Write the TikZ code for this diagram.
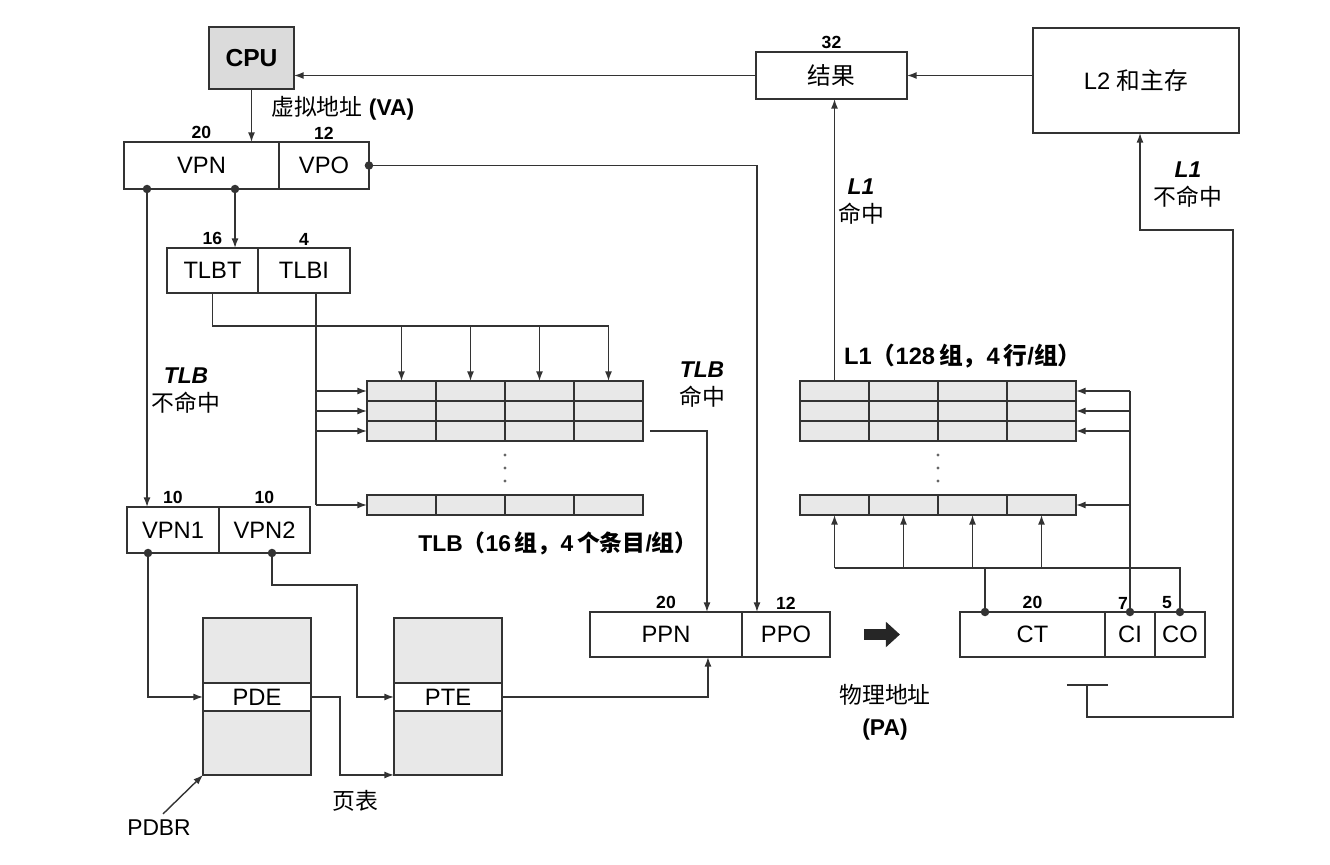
\documentclass[tikz,border=0pt]{standalone}
\usepackage{fontspec}
\setmainfont{Liberation Sans}
\newfontfamily\cjk{Noto Sans CJK SC}
\usetikzlibrary{arrows.meta,calc,positioning}

\begin{document}
\begin{tikzpicture}[x=0.02cm, y=-0.02cm,
    wire/.style={black!80, line width=0.8pt},
    conn/.style={wire, -{Latex[length=5.5pt,width=4pt]}},
    field/.style={draw=black!80, line width=1.3pt, inner sep=0pt, outer sep=0pt, font=\fontsize{13.5}{15}\selectfont},
    cell/.style={draw=black!80, line width=1.6pt, fill=gray!18, minimum width=1.38cm, minimum height=0.4cm, inner sep=0pt, outer sep=0pt},
    bits/.style={anchor=south, inner sep=1.5pt, font=\fontsize{10}{11}\selectfont\bfseries},
    dot/.style={circle, fill=black!80, inner sep=0pt, minimum size=0.17cm},
    txt/.style={font=\fontsize{13}{16}\selectfont, align=center}]
  \useasboundingbox (0,0) rectangle (1330,865);

  % CPU, result and L2
  \node[field, fill=gray!28, minimum width=1.7cm, minimum height=1.24cm, font=\fontsize{14}{15}\selectfont\bfseries] (cpu) at (251.5,58) {CPU};
  \node[field, minimum width=3.02cm, minimum height=0.94cm] (result) at (831.5,75.5) {{\cjk 结果}};
  \node[bits] at (result.north) {32};
  \node[field, minimum width=4.12cm, minimum height=2.1cm] (l2) at (1136,80.5) {L2 {\cjk 和主存}};
  \draw[conn] (result.west) -- (result.west -| cpu.east);
  \draw[conn] (l2.west |- result.east) -- (result.east);

  % Virtual address
  \node[field, minimum width=3.1cm, minimum height=0.94cm] (vpn) at (201.5,165.5) {VPN};
  \node[field, minimum width=1.8cm, minimum height=0.94cm, anchor=west] (vpo) at (vpn.east) {VPO};
  \node[bits] at (vpn.north) {20};
  \node[bits] at (vpo.north) {12};
  \node[txt, anchor=west] (valabel) at (265,108) {{\cjk 虚拟地址} \textbf{(VA)}};
  \draw[conn] (cpu.south) -- (cpu.south |- vpn.north);

  % TLB tag / index
  \node[field, minimum width=1.82cm, minimum height=0.9cm] (tlbt) at (212.5,270.5) {TLBT};
  \node[field, minimum width=1.84cm, minimum height=0.9cm, anchor=west] (tlbi) at (tlbt.east) {TLBI};
  \node[bits] at (tlbt.north) {16};
  \node[bits] at (tlbi.north) {4};

  % TLB sets
  \foreach \r in {0,1,2} {
    \foreach \c in {0,...,3} {
      \node[cell] (tlb-\r-\c) at ({401.5+69*\c},{391+20*\r}) {};
    }
  }
  \foreach \c in {0,...,3}
    \node[cell] (tlb-b-\c) at ({401.5+69*\c},505) {};
  \foreach \y in {455,468,481}
    \fill[black!60] (505,\y) circle (0.9pt);
  \node[txt, font=\fontsize{13}{15}\selectfont\bfseries] (tlblabel) at (558,543)
    {TLB{\cjk （}16\,{\cjk 组，}4\,{\cjk 个条目}/{\cjk 组）}};

  % L1 sets
  \foreach \r in {0,1,2} {
    \foreach \c in {0,...,3} {
      \node[cell] (l1-\r-\c) at ({834.5+69*\c},{391+20*\r}) {};
    }
  }
  \foreach \c in {0,...,3}
    \node[cell] (l1-b-\c) at ({834.5+69*\c},505) {};
  \foreach \y in {455,468,481}
    \fill[black!60] (938,\y) circle (0.9pt);
  \node[txt, anchor=west, font=\fontsize{13.5}{15}\selectfont\bfseries] (l1label) at (838,356)
    {L1{\cjk （}128\,{\cjk 组，}4\,{\cjk 行}/{\cjk 组）}};

  % Page table walk
  \node[field, minimum width=1.84cm, minimum height=0.92cm] (vpn1) at (173,530) {VPN1};
  \node[field, minimum width=1.82cm, minimum height=0.92cm, anchor=west] (vpn2) at (vpn1.east) {VPN2};
  \node[bits] at (vpn1.north) {10};
  \node[bits] at (vpn2.north) {10};
  \node[field, fill=gray!18, minimum width=2.16cm, minimum height=1.3cm] (pdtop) at (257,650.5) {};
  \node[field, minimum width=2.16cm, minimum height=0.56cm, anchor=north] (pde) at (pdtop.south) {PDE};
  \node[field, fill=gray!18, minimum width=2.16cm, minimum height=1.28cm, anchor=north] (pdbot) at (pde.south) {};
  \node[field, fill=gray!18, minimum width=2.16cm, minimum height=1.3cm] (pttop) at (448,650.5) {};
  \node[field, minimum width=2.16cm, minimum height=0.56cm, anchor=north] (pte) at (pttop.south) {PTE};
  \node[field, fill=gray!18, minimum width=2.16cm, minimum height=1.28cm, anchor=north] (ptbot) at (pte.south) {};
  \node[txt] (ptlabel) at (355,801) {{\cjk 页表}};
  \node[txt] (pdbr) at (159,828) {PDBR};

  % Physical address
  \node[field, minimum width=3.04cm, minimum height=0.9cm] (ppn) at (666,634.5) {PPN};
  \node[field, minimum width=1.76cm, minimum height=0.9cm, anchor=west] (ppo) at (ppn.east) {PPO};
  \node[bits] at (ppn.north) {20};
  \node[bits] at (ppo.north) {12};
  \node[field, minimum width=2.9cm, minimum height=0.9cm] (ct) at (1032.5,634.5) {CT};
  \node[field, minimum width=1.0cm, minimum height=0.9cm, anchor=west] (ci) at (ct.east) {CI};
  \node[field, minimum width=1.0cm, minimum height=0.9cm, anchor=west] (co) at (ci.east) {CO};
  \node[bits] at (ct.north) {20};
  \node[bits] at ($(ci.north)+(-7,0)$) {7};
  \node[bits] at ($(co.north)+(-13,0)$) {5};
  \draw[black!85, line width=6pt, -{Triangle[length=8pt,width=14pt]}] ($(ppo.east)+(34,0)$) -- ($(ppo.east)+(70,0)$);
  \node[txt, font=\fontsize{13}{18}\selectfont] (palabel) at (885,712) {{\cjk 物理地址}\\\textbf{(PA)}};

  % Hit / miss labels
  \node[txt] (tlbmiss) at (186,391) {\textbf{\textit{TLB}}\\{\cjk 不命中}};
  \node[txt] (tlbhit) at (702,385) {\textbf{\textit{TLB}}\\{\cjk 命中}};
  \node[txt] (l1hit) at (861,202) {\textbf{\textit{L1}}\\{\cjk 命中}};
  \node[txt] (l1miss) at (1188,185) {\textbf{\textit{L1}}\\{\cjk 不命中}};

  % VPN / VPO connections
  \node[dot] (vpodot) at (vpo.east) {};
  \node[dot] (vpndot1) at ($(vpn.south west)+(23,0)$) {};
  \node[dot] (vpndot2) at ($(vpn.south west)+(111,0)$) {};
  \draw[conn] (vpodot.center) -| ($(ppo.north west)+(15,0)$);
  \draw[conn] (vpndot2.center) -- (vpndot2.center |- tlbt.north);
  \draw[conn] (vpndot1.center) -- (vpndot1.center |- vpn1.north);

  % TLB lookup
  \coordinate (tagbus) at (0,326);
  \draw[wire] (tlbt.south) |- (tlb-0-3.north |- tagbus);
  \foreach \c in {0,...,3}
    \draw[conn] (tlb-0-\c.north |- tagbus) -- (tlb-0-\c.north);
  \coordinate (idx) at ($(tlbi.south)+(12,0)$);
  \draw[wire] (idx) -- (idx |- tlb-b-0.west);
  \foreach \r in {0,1,2}
    \draw[conn] (idx |- tlb-\r-0.west) -- (tlb-\r-0.west);
  \draw[conn] (idx |- tlb-b-0.west) -- (tlb-b-0.west);
  \draw[conn] ($(tlb-2-3.east)+(7,0)$) -| ($(ppn.north east)+(-35,0)$);

  % Page table connections
  \node[dot] (v1dot) at ($(vpn1.south west)+(21,0)$) {};
  \node[dot] (v2dot) at ($(vpn2.south west)+(53,0)$) {};
  \draw[conn] (v1dot.center) |- (pde.west);
  \draw[conn] (v2dot.center) -- ++(0,32) -| ($(pte.west)+(-37,0)$) -- (pte.west);
  \draw[conn] (pde.east) -- ++(29,0) |- (ptbot.south west);
  \draw[conn] (pte.east) -| ($(ppn.south east)+(-34,0)$);
  \draw[conn] ($(pdbr.north)+(4,0)$) -- (pdbot.south west);

  % L1 lookup
  \node[dot] (ctdot) at ($(ct.north west)+(25,0)$) {};
  \node[dot] (cidot) at (ci.north) {};
  \node[dot] (codot) at (co.north) {};
  \coordinate (sel) at (0,568);
  \draw[wire] (ctdot.center) -- (ctdot.center |- sel);
  \draw[wire] (codot.center) |- (l1-b-0.south |- sel);
  \foreach \c in {0,...,3}
    \draw[conn] (l1-b-\c.south |- sel) -- (l1-b-\c.south);
  \draw[wire] (cidot.center) -- (cidot.center |- l1-0-3.east);
  \foreach \r in {0,1,2}
    \draw[conn] (cidot.center |- l1-\r-3.east) -- (l1-\r-3.east);
  \draw[conn] (cidot.center |- l1-b-3.east) -- (l1-b-3.east);
  \draw[conn] (l1-0-0.north) -- (l1-0-0.north |- result.south);

  % L1 miss
  \coordinate (tbar) at ($(ct.south east)+(-18,28)$);
  \coordinate (missup) at ($(l2.south east)+(-6,97)$);
  \draw[wire] ($(tbar)+(-20,0)$) -- ($(tbar)+(21,0)$);
  \draw[conn] (tbar) -- ++(0,32) -| (missup) -| ($(l2.south)+(4,0)$);
\end{tikzpicture}
\end{document}
